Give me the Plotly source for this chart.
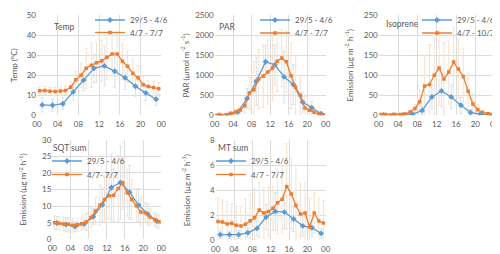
import plotly.graph_objects as go

# ---------------- data ----------------
hours_a = [1, 3, 5, 7, 9, 11, 13, 15, 17, 19, 21, 23]          # 29/5 - 4/6 (every 2 h)
hours_b = [0.5, 1.5, 2.5, 3.5, 4.5, 5.5, 6.5, 7.5, 8.5, 9.5, 10.5, 11.5,
           12.5, 13.5, 14.5, 15.5, 16.5, 17.5, 18.5, 19.5, 20.5, 21.5, 22.5, 23.5]

tick_vals = [0, 4, 8, 12, 16, 20, 24]
tick_text = ["00", "04", "08", "12", "16", "20", "00"]

temp_a = [5.2, 5.0, 5.8, 11.7, 17.5, 23.5, 24.7, 22.0, 18.8, 14.5, 11.2, 8.0]
temp_a_err = [3.5, 3.0, 3.0, 4.0, 5.0, 7.0, 10.0, 8.0, 6.0, 5.0, 4.0, 3.0]
temp_b = [12.3, 12.4, 12.0, 11.9, 12.1, 12.4, 14.0, 17.8, 20.0, 23.5, 25.0, 26.3,
          27.2, 29.0, 30.7, 30.7, 27.0, 24.5, 21.0, 18.8, 15.3, 14.4, 13.9, 13.3]
temp_b_err = [2, 2, 2, 2, 2, 2, 3, 4, 6, 10, 11, 10,
              10, 11, 11, 11, 9, 8, 7, 6, 4, 3, 3, 3]

par_a = [0, 5, 85, 420, 850, 1340, 1260, 960, 770, 330, 190, 40]
par_a_err = [3, 10, 60, 250, 600, 400, 500, 650, 500, 250, 150, 40]
par_b = [0, 0, 15, 50, 80, 130, 240, 560, 640, 910, 980, 1080,
         1180, 1350, 1430, 1340, 990, 700, 500, 180, 125, 75, 30, 10]
par_b_err = [2, 5, 15, 40, 60, 90, 180, 400, 700, 740, 780, 800,
             800, 750, 710, 760, 820, 800, 500, 300, 150, 80, 30, 10]

iso_a = [1, 1, 1, 3, 12, 46, 61, 46, 25, 7, 3, 1]
iso_a_err = [1, 1, 1, 3, 10, 30, 40, 30, 20, 8, 3, 1]
iso_b = [2, 2, 1, 2, 2, 3, 8, 17, 34, 73, 77, 100,
         118, 91, 108, 133, 116, 97, 60, 28, 14, 7, 4, 2]
iso_b_err = [2, 2, 2, 2, 2, 3, 5, 10, 30, 75, 100, 100,
             94, 90, 80, 87, 75, 71, 45, 25, 12, 6, 3, 2]

sqt_a = [4.9, 4.4, 3.8, 4.6, 6.8, 10.4, 15.6, 17.1, 14.2, 10.3, 7.6, 5.5]
sqt_a_err = [2.0, 2.0, 1.5, 1.5, 2.5, 5.0, 10.0, 11.0, 8.0, 5.0, 3.0, 2.0]
sqt_b = [5.0, 4.8, 4.6, 4.5, 4.2, 4.4, 4.7, 5.2, 6.6, 8.5, 10.3, 12.0,
         13.1, 13.3, 15.3, 17.0, 14.0, 12.0, 10.1, 8.2, 8.0, 6.7, 6.0, 5.3]
sqt_b_err = [2.0, 2.0, 2.0, 2.0, 2.0, 2.0, 2.0, 2.5, 3.0, 4.0, 6.0, 7.0,
             7.0, 8.0, 10.0, 8.0, 7.0, 6.0, 5.0, 4.0, 3.0, 2.5, 2.0, 2.0]

mt_a = [0.45, 0.45, 0.45, 0.6, 0.95, 1.85, 2.3, 2.25, 1.7, 1.15, 1.0, 0.55]
mt_a_err = [0.3, 0.3, 0.3, 0.4, 0.6, 1.0, 1.5, 1.3, 1.0, 0.8, 0.7, 0.4]
mt_b = [1.5, 1.46, 1.3, 1.35, 1.2, 1.15, 1.28, 1.55, 1.8, 2.42, 2.18, 2.3,
        2.55, 3.0, 3.27, 4.3, 3.7, 2.77, 2.1, 2.18, 1.06, 2.18, 1.54, 1.38]
mt_b_err = [1.85, 1.75, 1.8, 1.55, 1.5, 1.55, 2.0, 2.1, 2.3, 2.2, 2.0, 1.95,
            1.75, 2.5, 2.7, 3.4, 2.8, 3.2, 2.4, 2.4, 2.3, 1.6, 1.8, 1.8]

# ---------------- style ----------------
W, H = 500, 254
BLUE = "#5B9BD5"
ORANGE = "#ED7D31"
BLUE_ERR = "#D3E2F1"
ORANGE_ERR = "#F6E1CF"
GRID = "#DCDCDC"
TXT = "#595959"
FONT = "Lato"
LEG_OFF = 14.5   # distance from legend box top to centre of its (single) row

panels = [
    dict(name="Temp", a=temp_a, ae=temp_a_err, b=temp_b, be=temp_b_err,
         la="29/5 - 4/6", lb="4/7 - 7/7", ymax=50, dtick=10,
         ytitle="Temp (<sup>o</sup>C)",
         px=(29, 153.3), py=(7.3, 107.3), title_pos=(0.12, 0.88),
         leg_x=82, leg_rows=(12, 24.5)),
    dict(name="PAR", a=par_a, ae=par_a_err, b=par_b, be=par_b_err,
         la="29/5 - 4/6", lb="4/7 - 7/7", ymax=2500, dtick=500,
         ytitle="PAR (µmol m<sup>-2</sup> s<sup>-1</sup>)",
         px=(206.7, 317.7), py=(7.3, 107.3), title_pos=(0.02, 0.88),
         leg_x=247, leg_rows=(12, 25)),
    dict(name="Isoprene", a=iso_a, ae=iso_a_err, b=iso_b, be=iso_b_err,
         la="29/5 - 4/6", lb="4/7 - 10/7", ymax=250, dtick=50,
         ytitle="Emission (µg m<sup>-2</sup> h<sup>-1</sup>)",
         px=(370.7, 486.7), py=(7.3, 107.3), title_pos=(0.045, 0.91),
         leg_x=409, leg_rows=(12, 25)),
    dict(name="SQT sum", a=sqt_a, ae=sqt_a_err, b=sqt_b, be=sqt_b_err,
         la="29/5 - 4/6", lb="4/7- 7/7", ymax=30, dtick=5,
         ytitle="Emission (µg m<sup>-2</sup> h<sup>-1</sup>)",
         px=(44.3, 153.3), py=(131.7, 231.3), title_pos=(-0.01, 0.915),
         leg_x=39, leg_rows=(153, 166.5)),
    dict(name="MT sum", a=mt_a, ae=mt_a_err, b=mt_b, be=mt_b_err,
         la="29/5 - 4/6", lb="4/7 - 7/7", ymax=8, dtick=2,
         ytitle="Emission (µg m<sup>-2</sup> h<sup>-1</sup>)",
         px=(207.7, 317.7), py=(132, 232.3), title_pos=(0.0, 0.92),
         leg_x=203, leg_rows=(153, 166.5)),
]

fig = go.Figure()
layout = dict(
    template="none",
    width=W, height=H,
    margin=dict(l=0, r=0, t=0, b=0, autoexpand=False),
    paper_bgcolor="white", plot_bgcolor="white",
    font=dict(family=FONT, size=8, color=TXT),
    hovermode=False,
    annotations=[],
)


def legend_name(n):
    return "legend" if n == 1 else "legend" + str(n)


for i, p in enumerate(panels):
    k = "" if i == 0 else str(i + 1)
    xa, ya = "x" + k, "y" + k
    leg_a = legend_name(2 * i + 1)
    leg_b = legend_name(2 * i + 2)
    # error bars (drawn beneath the lines)
    for xs, ys, es, ec in ((hours_a, p["a"], p["ae"], BLUE_ERR),
                           (hours_b, p["b"], p["be"], ORANGE_ERR)):
        fig.add_trace(go.Scatter(
            x=xs, y=ys, mode="markers", xaxis=xa, yaxis=ya,
            marker=dict(size=1, color="rgba(0,0,0,0)"),
            error_y=dict(type="data", array=es, color=ec, thickness=1, width=1.5),
            showlegend=False, hoverinfo="skip"))
    fig.add_trace(go.Scatter(
        x=hours_a, y=p["a"], mode="lines+markers", name=p["la"],
        xaxis=xa, yaxis=ya, legend=leg_a,
        line=dict(color=BLUE, width=1.3),
        marker=dict(symbol="diamond", size=4.5, color=BLUE)))
    fig.add_trace(go.Scatter(
        x=hours_b, y=p["b"], mode="lines+markers", name=p["lb"],
        xaxis=xa, yaxis=ya, legend=leg_b,
        line=dict(color=ORANGE, width=1.3),
        marker=dict(symbol="square", size=3.5, color=ORANGE)))

    x0, x1 = p["px"]
    y0, y1 = p["py"]
    layout["xaxis" + k] = dict(
        domain=[x0 / W, x1 / W], anchor=ya, range=[0, 24],
        tickvals=tick_vals, ticktext=tick_text, showgrid=True, gridcolor=GRID,
        gridwidth=1, zeroline=False, showline=False, ticks="", automargin=False,
        ticklabelstandoff=3,
        tickfont=dict(size=8, color=TXT), fixedrange=True)
    layout["yaxis" + k] = dict(
        domain=[1 - y1 / H, 1 - y0 / H], anchor=xa, range=[0, p["ymax"]],
        dtick=p["dtick"], showgrid=True, gridcolor=GRID, gridwidth=1,
        zeroline=False, showline=False, ticks="", automargin=False,
        tickfont=dict(size=8, color=TXT),
        title=dict(text=p["ytitle"], font=dict(size=8, color=TXT)),
        fixedrange=True)
    for leg, row in ((leg_a, p["leg_rows"][0]), (leg_b, p["leg_rows"][1])):
        layout[leg] = dict(
            x=p["leg_x"] / W, y=1 - (row - LEG_OFF) / H, xanchor="left", yanchor="top",
            bgcolor="rgba(0,0,0,0)", borderwidth=0, font=dict(size=8, color=TXT),
            itemclick=False, itemdoubleclick=False)
    layout["annotations"].append(dict(
        text=p["name"], xref=xa + " domain", yref=ya + " domain",
        x=p["title_pos"][0], y=p["title_pos"][1], xanchor="left", yanchor="middle",
        showarrow=False, font=dict(size=8.5, color=TXT)))

fig.update_layout(**layout)
fig.write_html("out.html")
